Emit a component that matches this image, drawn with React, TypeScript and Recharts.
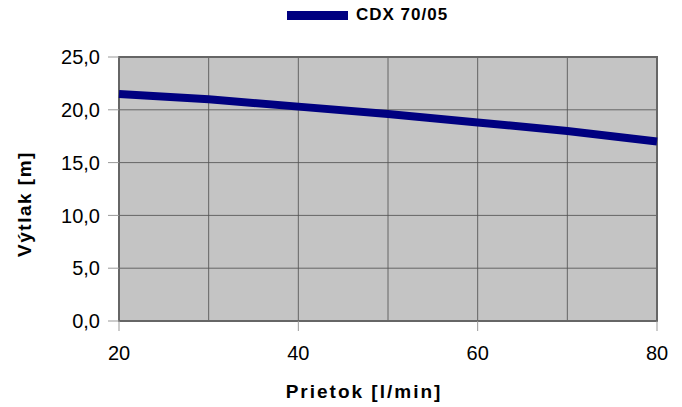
import {
  LineChart,
  Line,
  XAxis,
  YAxis,
  CartesianGrid,
  Legend,
  Label,
  ReferenceArea,
} from "recharts";

const prietok = [20, 30, 40, 50, 60, 70, 80];
const vytlak = [21.5, 21.0, 20.3, 19.6, 18.8, 18.0, 17.0];
const xTicks = [20, 40, 60, 80];
const xGrid = [20, 30, 40, 50, 60, 70, 80];
const yTicks = [0, 5, 10, 15, 20, 25];
const seriesName = "CDX 70/05";

const data = prietok.map((p, i) => ({ prietok: p, vytlak: vytlak[i] }));

const font = "'Liberation Sans', Arial, sans-serif";

function LegendBox(props: any) {
  const items = props.payload || [];
  return (
    <div style={{ display: "flex", alignItems: "center", fontFamily: font }}>
      {items.map((it: any) => (
        <div key={it.value} style={{ display: "flex", alignItems: "center" }}>
          <div style={{ width: 61, height: 9, background: it.color }} />
          <span
            style={{
              marginLeft: 8,
              fontSize: 17,
              fontWeight: "bold",
              letterSpacing: 1,
              color: "#000",
            }}
          >
            {it.value}
          </span>
        </div>
      ))}
    </div>
  );
}

export default function App() {
  return (
    <div style={{ position: "absolute", left: 0, top: 0, background: "#fff" }}>
      <LineChart
        width={682}
        height={407}
        data={data}
        margin={{ top: 57, right: 25, left: 0, bottom: 0 }}
      >
        <CartesianGrid
          fill="#c4c4c4"
          stroke="#555"
          strokeOpacity={0.85}
          verticalValues={xGrid}
          horizontalValues={yTicks}
        />
        <XAxis
          dataKey="prietok"
          type="number"
          domain={[20, 80]}
          ticks={xTicks}
          height={86}
          tickSize={10}
          tickMargin={15}
          axisLine={false}
          tickLine={{ stroke: "#999" }}
          tick={{ fill: "#000", fontSize: 20, fontFamily: font }}
        >
          <Label
            value="Prietok [l/min]"
            position="insideBottom"
            offset={9}
            dx={-24}
            style={{
              fontSize: 19,
              fontWeight: "bold",
              letterSpacing: 2,
              fill: "#000",
              fontFamily: font,
            }}
          />
        </XAxis>
        <YAxis
          type="number"
          domain={[0, 25]}
          ticks={yTicks}
          width={119}
          tickSize={11}
          tickMargin={8}
          axisLine={false}
          tickLine={{ stroke: "#999" }}
          tickFormatter={(v: number) => v.toFixed(1).replace(".", ",")}
          tick={{ fill: "#000", fontSize: 20, fontFamily: font }}
        >
          <Label
            value="Výtlak [m]"
            angle={-90}
            position="center"
            dx={-35}
            dy={15}
            style={{
              fontSize: 19,
              fontWeight: "bold",
              letterSpacing: 1.5,
              fill: "#000",
              fontFamily: font,
              textAnchor: "middle",
            }}
          />
        </YAxis>
        <ReferenceArea
          x1={20}
          x2={80}
          y1={0}
          y2={25}
          fill="none"
          stroke="#666"
          strokeWidth={2}
        />
        <Legend
          layout="horizontal"
          verticalAlign="middle"
          content={<LegendBox />}
          wrapperStyle={{ position: "absolute", top: 5, left: 287, width: "auto" }}
        />
        <Line
          type="linear"
          dataKey="vytlak"
          name={seriesName}
          stroke="#000080"
          strokeWidth={8}
          dot={false}
          isAnimationActive={false}
        />
      </LineChart>
    </div>
  );
}
